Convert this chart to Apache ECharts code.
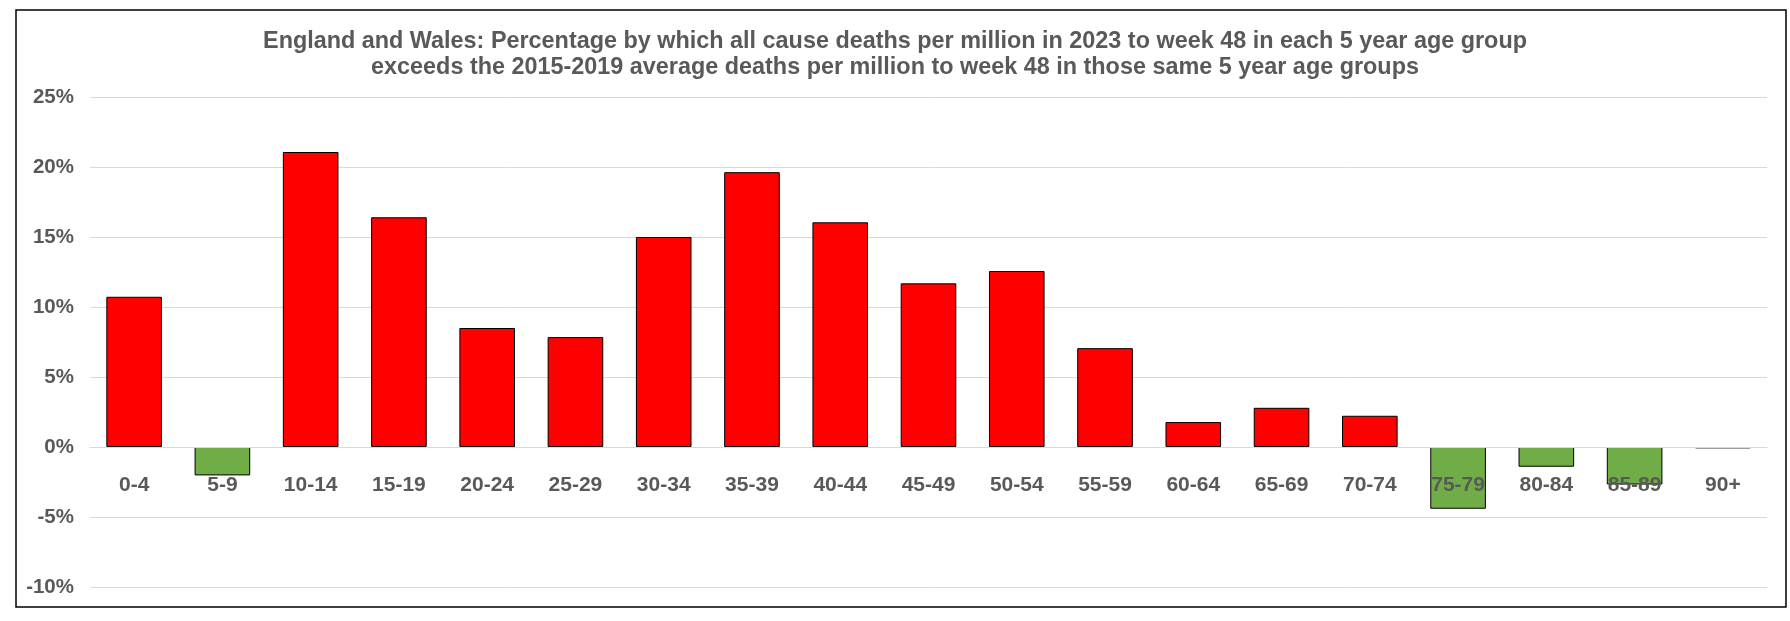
<!DOCTYPE html>
<html>
<head>
<meta charset="utf-8">
<script src="https://cdn.jsdelivr.net/npm/echarts@6/dist/echarts.min.js"></script>
<style>
html,body{margin:0;padding:0;background:#fff;}
#chart{width:1790px;height:621px;}
</style>
</head>
<body>
<div id="chart"></div>
<script>
const categories = ['0-4','5-9','10-14','15-19','20-24','25-29','30-34','35-39','40-44','45-49','50-54','55-59','60-64','65-69','70-74','75-79','80-84','85-89','90+'];
const excessPct = [10.73,-2.03,21.07,16.41,8.50,7.85,15.0,19.63,16.05,11.69,12.57,7.06,1.78,2.80,2.23,-4.41,-1.41,-2.68,-0.1];
const yTicks = {min:-10, max:25, interval:5};
const titleLines = [
  'England and Wales: Percentage by which all cause deaths per million in 2023 to week 48 in each 5 year age group',
  'exceeds the 2015-2019 average deaths per million to week 48 in those same 5 year age groups'
];

const FONT = '"Liberation Sans", Arial, sans-serif';
const TXT = '#595959';
const GRID_TOP = 97, GRID_BOTTOM = 34, H = 621;
const plotH = H - GRID_TOP - GRID_BOTTOM;
// distance of the zero line above the bottom of the plot, from the axis range
const zeroOffset = plotH * (0 - yTicks.min) / (yTicks.max - yTicks.min);

const chart = echarts.init(document.getElementById('chart'), null, {renderer:'canvas'});
chart.setOption({
  animation:false,
  backgroundColor:'#fff',
  title:{
    text: titleLines.join('\n'),
    left:'center',
    top:24,
    textStyle:{fontFamily:FONT, fontWeight:'bold', fontSize:23.4, lineHeight:26, color:TXT}
  },
  graphic:[{
    type:'rect',
    shape:{x:16, y:10, width:1770, height:597},
    style:{fill:'none', stroke:'#000', lineWidth:1.5},
    z:100
  }],
  grid:{left:90, right:23, top:GRID_TOP, bottom:GRID_BOTTOM, containLabel:false},
  xAxis:{
    type:'category',
    data:categories,
    z:10,
    offset:-zeroOffset,
    axisLine:{show:true, onZero:false, lineStyle:{color:'#d9d9d9', width:1}},
    axisTick:{show:false},
    axisLabel:{fontFamily:FONT, fontWeight:'bold', fontSize:21, color:TXT, margin:28, interval:0}
  },
  yAxis:{
    type:'value',
    min:yTicks.min, max:yTicks.max, interval:yTicks.interval,
    axisLine:{show:false},
    axisTick:{show:false},
    splitLine:{lineStyle:{color:'#d9d9d9', width:1}},
    axisLabel:{fontFamily:FONT, fontWeight:'bold', fontSize:20.5, color:TXT, margin:16, formatter:'{value}%'}
  },
  series:[{
    type:'bar',
    data:excessPct.map(v => ({value:v, itemStyle:{color: v >= 0 ? '#FF0000' : '#70AD47'}})),
    barCategoryGap:'37%',
    itemStyle:{borderColor:'#000', borderWidth:1},
    z:2
  }]
});
</script>
</body>
</html>
